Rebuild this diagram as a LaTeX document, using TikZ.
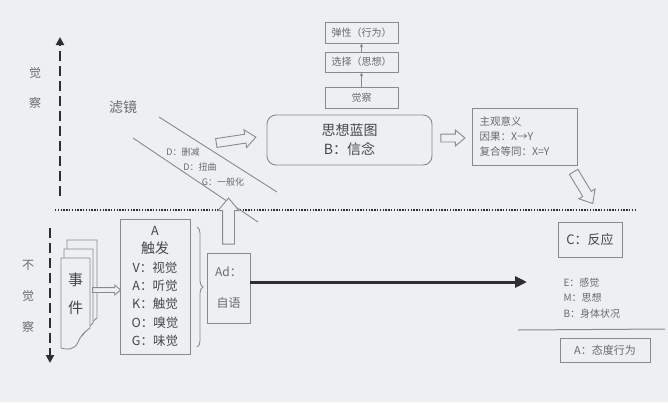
\documentclass[tikz,border=0pt]{standalone}
\usepackage{fontspec}
\setmainfont{Noto Sans CJK SC}
\usepackage{xcolor}
\usepackage{tikz}
\usetikzlibrary{calc,arrows.meta,shapes.arrows,decorations.pathreplacing}
\definecolor{paper}{HTML}{EDEFF3}
\definecolor{ink}{HTML}{474747}
\definecolor{soft}{HTML}{6A6A6A}
\definecolor{frame}{HTML}{8A8A8A}
\definecolor{dark}{HTML}{2E2E2E}
\tikzset{
  box/.style={draw=frame, line width=0.9pt, text=ink, inner sep=0pt},
  tinybox/.style={box, minimum width=73pt, minimum height=21pt, text=soft, font=\fontsize{10}{12}\selectfont},
  hollow/.style={single arrow, draw=frame, line width=0.9pt, fill=paper, inner xsep=0pt, minimum width=0pt, single arrow tip angle=80},
  axis/.style={draw=dark, line width=2.6pt, dash pattern=on 10pt off 5pt, -{Triangle[length=8pt,width=8pt]}},
  lab/.style={text=soft},
  note/.style={text=soft, font=\fontsize{9}{11}\selectfont},
  page/.style={draw=frame, line width=0.9pt, fill=paper}
}

\begin{document}
\begin{tikzpicture}[x=1pt,y=-1pt]
  \useasboundingbox[fill=paper] (0,0) rectangle (668,402);

  % awareness axis
  \coordinate (upbot) at (60,196);
  \coordinate (uptop) at (60,37);
  \draw[axis] (upbot) -- (uptop);
  \coordinate (dntop) at (50,228);
  \coordinate (dnbot) at (50,363);
  \draw[axis] (dntop) -- (dnbot);
  \node[lab, align=center, font=\fontsize{12}{30}\selectfont] (aware) at (35,88) {觉\\察};
  \node[lab, align=center, font=\fontsize{12}{31}\selectfont] (unaware) at (28,296) {不\\觉\\察};

  % divider
  \coordinate (divl) at (55,210);
  \coordinate (divr) at (636,210);
  \draw[draw=dark, line width=1.4pt, dash pattern=on 1.4pt off 1.4pt] (divl) -- (divr);

  % filter
  \node[lab, font=\fontsize{14}{16}\selectfont] (filter) at (123,107) {滤镜};
  \coordinate (fa1) at (159,117);
  \coordinate (fa2) at (277,192);
  \coordinate (fb1) at (133,138);
  \coordinate (fb2) at (258,222);
  \draw[frame, line width=0.9pt] (fa1) -- (fa2);
  \draw[frame, line width=0.9pt] (fb1) -- (fb2);
  \node[note] (delete) at (183,152) {D：删减};
  \node[note] (distort) at (200,167) {D：扭曲};
  \node[note] (general) at (223,182) {G：一般化};

  % blueprint and awareness stack
  \node[box, rounded corners=9pt, minimum width=165pt, minimum height=50pt, align=center,
        font=\fontsize{14}{19}\selectfont] (blueprint) at (349.5,140) {思想蓝图\\B：信念};
  \node[tinybox] (awarebox) at (361.5,97.5) {觉察};
  \node[tinybox, minimum height=20pt] (choice) at (361.5,62) {选择（思想）};
  \node[tinybox] (flex) at (361.5,32.5) {弹性（行为）};
  \draw[frame, line width=0.8pt, -{Stealth[length=4pt,width=3.5pt]}] (awarebox) -- (choice);
  \draw[frame, line width=0.8pt, -{Stealth[length=4pt,width=3.5pt]}] (choice) -- (flex);

  % meaning
  \node[box, minimum width=105pt, minimum height=57pt, text width=90pt, align=left, text=soft,
        font=\fontsize{10.5}{15}\selectfont] (meaning) at (524.5,136.5) {主观意义\\因果：X→Y\\复合等同：X=Y};

  % reaction
  \node[box, minimum width=64pt, minimum height=35pt, font=\fontsize{13}{15}\selectfont] (reaction) at (590,240) {C：反应};
  \node[note, anchor=west, align=left, font=\fontsize{10}{15.5}\selectfont] (channels) at (560,298) {E：感觉\\M：思想\\B：身体状况};
  \coordinate (rulel) at (518,330);
  \coordinate (ruler) at (665,329);
  \draw[frame, line width=1pt] (rulel) -- (ruler);
  \node[box, minimum width=90pt, minimum height=24pt, text=soft, font=\fontsize{11}{13}\selectfont] (attitude) at (605,350) {A：态度行为};

  % trigger
  \node[box, minimum width=70pt, minimum height=135pt, align=center,
        font=\fontsize{12.5}{18.3}\selectfont] (trigger) at (155,286.5)
        {A\\{\fontsize{14}{18.3}\selectfont 触发}\\V：视觉\\A：听觉\\K：触觉\\O：嗅觉\\G：味觉};
  \coordinate (bracetop) at (197,227);
  \coordinate (bracebot) at (197,347);
  \draw[frame, line width=0.9pt, decorate, decoration={brace, amplitude=6pt}] (bracetop) -- (bracebot);

  % self-talk
  \node[box, minimum width=43pt, minimum height=70pt, align=center, text=soft,
        font=\fontsize{12}{31}\selectfont] (ad) at (228.5,288) {Ad：\\自语};
  \coordinate (runend) at (527,282);
  \draw[draw=dark, line width=3pt, -{Triangle[length=12pt,width=11pt]}] (ad.east |- runend) -- (runend);

  % event pages
  \draw[page] (67,240) -- (97,240) -- (97,318) .. controls (92,322) .. (86,330) -- (67,330) -- cycle;
  \draw[page] (64,249) -- (93,249) -- (93,323) .. controls (88,328) .. (82,336) -- (64,336) -- cycle;
  \draw[page] (61,258) -- (90,258) -- (90,328) .. controls (84,332) and (80,337) .. (78,342)
        .. controls (75,350) and (67,350) .. (61,348) -- cycle;
  \node[minimum width=29pt, minimum height=90pt, align=center, text=ink,
        font=\fontsize{15}{28}\selectfont] (event) at (75.5,294) {事\\件};

  % hollow arrows
  \node[hollow, minimum height=28pt, inner ysep=2pt, single arrow head extend=2.5pt, anchor=tail]
        (evtotrig) at ([xshift=2pt,yshift=4pt]event.east) {};
  \node[hollow, minimum height=46pt, inner ysep=5.5pt, single arrow head extend=4.5pt, rotate=90, anchor=tail]
        (adtofilter) at ([yshift=8pt]ad.north) {};
  \node[hollow, minimum height=40pt, inner ysep=4pt, single arrow head extend=4.5pt, rotate=8.5, anchor=tip]
        (filtertoblue) at ([xshift=-10pt,yshift=3pt]blueprint.west) {};
  \node[hollow, minimum height=24pt, inner ysep=3.5pt, single arrow head extend=4pt, anchor=tail]
        (bluetomean) at ([xshift=8pt,yshift=2pt]blueprint.east) {};
  \node[hollow, minimum height=37pt, inner ysep=4.5pt, single arrow head extend=4.5pt, rotate=-59, anchor=tail]
        (meantoreact) at ([xshift=-4pt,yshift=-6pt]meaning.south east) {};
\end{tikzpicture}
\end{document}
